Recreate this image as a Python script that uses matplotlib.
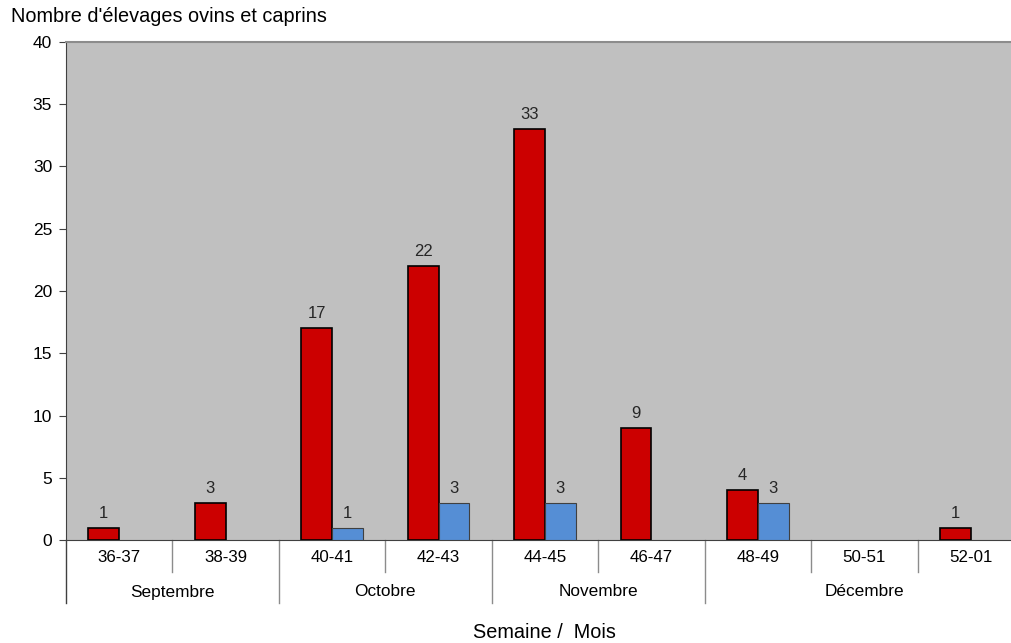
import numpy as np
import matplotlib
matplotlib.use("Agg")
import matplotlib.pyplot as plt
import matplotlib.transforms as mtransforms

plt.rcParams['font.family'] = ['Liberation Sans', 'DejaVu Sans']

# data
weeks = ['36-37', '38-39', '40-41', '42-43', '44-45', '46-47', '48-49', '50-51', '52-01']
months = ['Septembre', 'Octobre', 'Novembre', 'Décembre']
month_span = [2, 2, 2, 3]
red_vals = [1, 3, 17, 22, 33, 9, 4, 0, 1]
blue_vals = [0, 0, 1, 3, 3, 0, 3, 0, 0]

fig = plt.figure(figsize=(10.11, 6.43), dpi=100)
W, H = 1011, 643
x0, x1, y0, y1 = 66, 1024, 540, 42
ax = fig.add_axes([x0 / W, 1 - y0 / H, (x1 - x0) / W, (y0 - y1) / H])
ax.set_facecolor('#c0c0c0')

x = np.arange(len(weeks))
w = 0.29
red_bars = ax.bar(x - w / 2, red_vals, w, color='#cc0000', edgecolor='black', linewidth=1.2, zorder=3)
blue_bars = ax.bar(x + w / 2, blue_vals, w, color='#558ed5', edgecolor='#404040', linewidth=0.8, zorder=3)

for bars, vals in [(red_bars, red_vals), (blue_bars, blue_vals)]:
    for b, v in zip(bars, vals):
        if v == 0:
            b.set_visible(False)
            continue
        ax.annotate(str(v), (b.get_x() + b.get_width() / 2, v), xytext=(0, 5),
                    textcoords='offset points', ha='center', va='bottom',
                    fontsize=12, color='#262626')

ax.set_xlim(-0.5, len(weeks) - 0.5)
ax.set_ylim(0, 40)
ax.set_yticks(range(0, 41, 5))
ax.tick_params(axis='y', length=5, color='#404040', labelsize=12.5, pad=5)
ax.set_xticks([])
ax.spines['right'].set_visible(False)
ax.spines['top'].set_color('#8c8c8c')
ax.spines['top'].set_linewidth(1.5)
ax.spines['left'].set_color('#404040')
ax.spines['bottom'].set_color('#404040')

# two-level category axis below the plot
trans = mtransforms.blended_transform_factory(ax.transData, ax.transAxes)
ph = y0 - y1
short_y = -32 / ph
long_y = -63 / ph
for i, wk in enumerate(weeks):
    ax.text(i, -17 / ph, wk, transform=trans, ha='center', va='center', fontsize=12.2)

bounds = np.cumsum([0] + month_span)
for i in range(1, len(weeks)):
    yb = long_y if i in bounds else short_y
    ax.plot([i - 0.5, i - 0.5], [0, yb], transform=trans, color='#8c8c8c',
            linewidth=1, clip_on=False)
ax.plot([-0.5, -0.5], [0, long_y], transform=trans, color='#404040', linewidth=1, clip_on=False)

for m, a, b in zip(months, bounds[:-1], bounds[1:]):
    ax.text((a + b - 1) / 2, -52 / ph, m, transform=trans, ha='center', va='center', fontsize=12.4)

fig.text(11 / W, 1 - 17 / H, "Nombre d'élevages ovins et caprins", ha='left', va='center', fontsize=14.3)
fig.text(544 / W, 1 - 632 / H, 'Semaine /  Mois', ha='center', va='center', fontsize=14.3)

fig.savefig('out.png', dpi=100)
